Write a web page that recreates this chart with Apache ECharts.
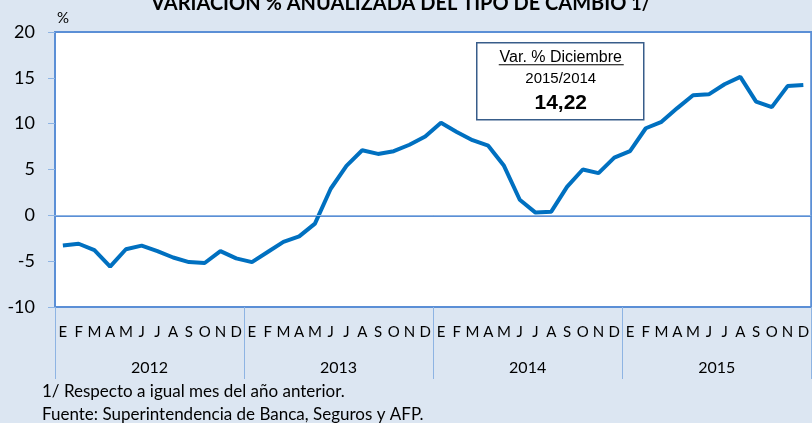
<!DOCTYPE html>
<html>
<head>
<meta charset="utf-8">
<script src="https://cdn.jsdelivr.net/npm/echarts@6/dist/echarts.min.js"></script>
<style>
  html, body { margin: 0; padding: 0; background: #dce6f2; }
  #main { width: 812px; height: 423px; }
</style>
</head>
<body>
<div id="main"></div>
<script>
  // datos
  var meses = ['E','F','M','A','M','J','J','A','S','O','N','D'];
  var anios = ['2012', '2013', '2014', '2015'];
  var v2012 = [-3.3, -3.1, -3.8, -5.6, -3.7, -3.3, -3.9, -4.6, -5.1, -5.2, -3.9, -4.7];
  var v2013 = [-5.1, -4.0, -2.9, -2.3, -0.9, 2.9, 5.4, 7.1, 6.7, 7.0, 7.7, 8.6];
  var v2014 = [10.1, 9.1, 8.2, 7.6, 5.4, 1.7, 0.3, 0.4, 3.1, 5.0, 4.6, 6.3];
  var v2015 = [7.0, 9.5, 10.2, 11.7, 13.1, 13.2, 14.3, 15.1, 12.4, 11.8, 14.1, 14.22];

  var categorias = [], valores = [];
  [v2012, v2013, v2014, v2015].forEach(function (serie, k) {
    serie.forEach(function (v, i) {
      categorias.push(anios[k] + '-' + meses[i]);
      valores.push(v);
    });
  });

  var azul = '#0070c0';
  var borde = '#5b8fd6';
  var fuente = 'Lato, "Open Sans", sans-serif';

  var myChart = echarts.init(document.getElementById('main'));
  var option = {
    backgroundColor: '#dce6f2',
    animation: false,
    title: {
      text: '{b|VARIACIÓN % ANUALIZADA DEL TIPO DE CAMBIO} {n|1/}',
      left: 146,
      top: -11,
      textStyle: {
        rich: {
          b: { fontFamily: fuente, fontWeight: 'bold', fontSize: 20, color: '#000' },
          n: { fontFamily: fuente, fontSize: 18, color: '#000' }
        }
      }
    },
    grid: {
      left: 55,
      top: 32,
      width: 760,
      bottom: 116,
      show: true,
      backgroundColor: '#fff',
      borderColor: borde,
      borderWidth: 2
    },
    xAxis: [
      {
        type: 'category',
        data: categorias,
        position: 'bottom',
        axisLine: { show: true, lineStyle: { color: borde, width: 2 } },
        axisTick: { show: false },
        axisLabel: {
          interval: 0,
          margin: 18,
          fontFamily: fuente,
          fontSize: 15,
          color: '#000',
          formatter: function (val) { return val.split('-')[1]; }
        }
      },
      {
        type: 'category',
        data: anios,
        position: 'bottom',
        axisLine: { show: false },
        axisTick: { show: true, length: 72, inside: false, lineStyle: { color: '#8eb4e3', width: 1 } },
        axisLabel: { margin: 53, fontFamily: fuente, fontSize: 16, color: '#000' }
      }
    ],
    yAxis: {
      type: 'value',
      min: -10,
      max: 20,
      interval: 5,
      name: '%',
      nameLocation: 'end',
      nameGap: 6,
      nameTextStyle: { fontFamily: fuente, fontSize: 15, color: '#000', align: 'left', padding: [0, 0, 0, 2] },
      axisLine: { show: true, lineStyle: { color: borde, width: 2 } },
      axisTick: { show: true, length: 7, lineStyle: { color: '#8eb4e3' } },
      splitLine: { show: false },
      axisLabel: { margin: 20, fontFamily: fuente, fontSize: 18, color: '#000' }
    },
    series: [
      {
        type: 'line',
        data: valores,
        symbol: 'none',
        lineStyle: { color: azul, width: 4 },
        markLine: {
          silent: true,
          symbol: 'none',
          label: { show: false },
          lineStyle: { color: '#8eb4e3', width: 1, type: 'solid' },
          data: [{ yAxis: 0 }]
        },
        z: 3
      }
    ],
    graphic: [
      {
        type: 'group',
        left: 476,
        top: 42,
        children: [
          { type: 'rect', shape: { x: 0, y: 0, width: 167, height: 77 },
            style: { fill: '#fff', stroke: '#385d8a', lineWidth: 1.5 } },
          { type: 'text', x: 84, y: 7,
            style: { text: 'Var. % Diciembre', font: '16px "Liberation Sans", Arial', fill: '#000', align: 'center' } },
          { type: 'line', shape: { x1: 22, y1: 22, x2: 147, y2: 22 }, style: { stroke: '#000', lineWidth: 1 } },
          { type: 'text', x: 84, y: 29,
            style: { text: '2015/2014', font: '15px "Liberation Sans", Arial', fill: '#000', align: 'center' } },
          { type: 'text', x: 84, y: 50,
            style: { text: '14,22', font: 'bold 21px "Liberation Sans", Arial', fill: '#000', align: 'center' } }
        ]
      },
      { type: 'text', left: 42, top: 383,
        style: { text: '1/ Respecto a igual mes del año anterior.', font: '17px ' + fuente, fill: '#000' } },
      { type: 'text', left: 42, top: 406,
        style: { text: 'Fuente: Superintendencia de Banca, Seguros y AFP.', font: '17px ' + fuente, fill: '#000' } }
    ]
  };
  myChart.setOption(option);
</script>
</body>
</html>
